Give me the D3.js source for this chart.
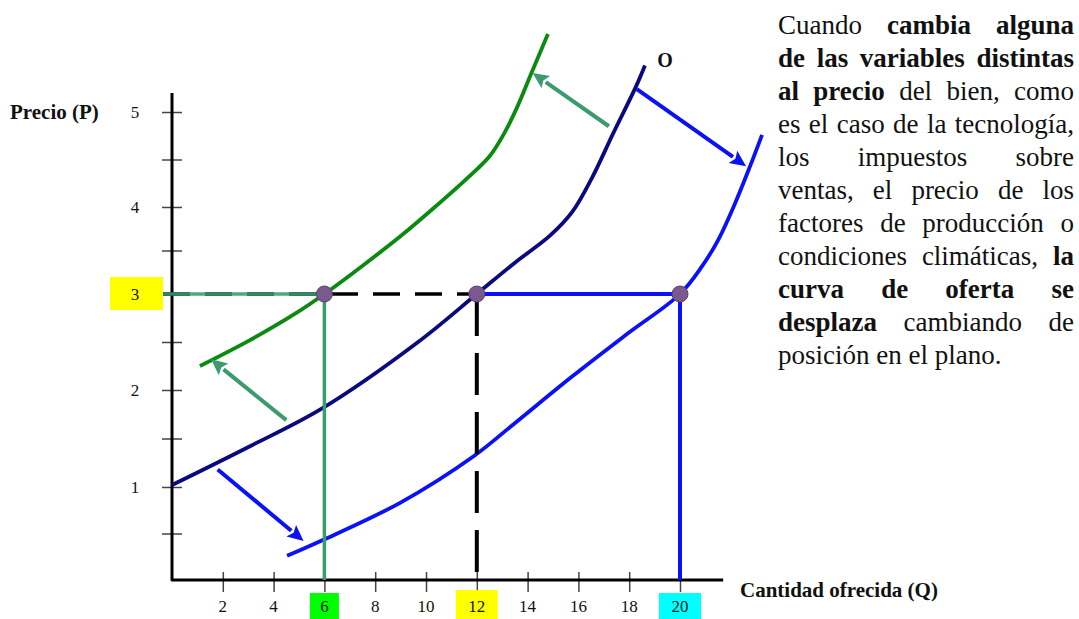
<!DOCTYPE html>
<html>
<head>
<meta charset="utf-8">
<script src="https://cdn.jsdelivr.net/npm/d3@7"></script>
<style>
  html, body { margin: 0; padding: 0; background: #ffffff; }
  svg { display: block; }
</style>
</head>
<body>
<svg id="chart" width="1079" height="619"></svg>
<script>
// ---------------- DATA ----------------
const priceTicks = [0.5, 1, 1.5, 2, 2.5, 3, 3.5, 4, 4.5, 5];
const priceLabels = [1, 2, 3, 4, 5];
const qtyTicks = [2, 4, 6, 8, 10, 12, 14, 16, 18, 20];

// Original supply curve "O"
const origQ = [0, 3.07, 5.91, 9.69, 12, 13.5, 14.88, 15.75, 16.54, 17.36, 18.27, 18.62];
const origP = [1.02, 1.42, 1.81, 2.5, 3, 3.36, 3.67, 3.94, 4.31, 4.77, 5.27, 5.49];
// Supply shifted left (green)
const leftQ = [1.1, 3.07, 4.88, 6, 7.48, 8.98, 10.35, 11.65, 12.52, 13.11, 13.62, 14.09, 14.8];
const leftP = [2.25, 2.52, 2.8, 3, 3.32, 3.66, 4.0, 4.31, 4.54, 4.79, 5.07, 5.37, 5.82];
// Supply shifted right (blue)
const rightQ = [4.53, 5.94, 8.98, 11.89, 13.46, 15.75, 17.95, 20, 20.87, 21.5, 22.17, 22.76, 23.23];
const rightP = [0.26, 0.43, 0.83, 1.32, 1.65, 2.14, 2.59, 3, 3.32, 3.62, 4.04, 4.43, 4.76];

// Equilibrium price and quantities
const eqPrice = 3;
const eqQty = [6, 12, 20];
const highlightQty = [6, 12, 20];
const highlightQtyColors = ["#00ff00", "#ffff00", "#00ffff"];
const highlightPrice = 3;

// Shift arrows: [q tail, p tail, q head, p head]
const greenArrows = [[4.5, 1.69, 1.54, 2.32], [17.2, 4.85, 14.2, 5.41]];
const blueArrows = [[1.8, 1.18, 5.18, 0.42], [18.3, 5.24, 22.6, 4.43]];

const curveLabel = "O";
const curveLabelPos = [19.41, 5.55];
const xTitle = "Cantidad ofrecida (Q)";
const yTitle = "Precio (P)";

// Paragraph (lines, with bold segments)
const paragraph = [
  [["Cuando ", false], ["cambia alguna", true]],
  [["de las variables distintas", true]],
  [["al precio", true], [" del bien, como", false]],
  [["es el caso de la tecnología,", false]],
  [["los impuestos sobre", false]],
  [["ventas, el precio de los", false]],
  [["factores de producción o", false]],
  [["condiciones climáticas, ", false], ["la", true]],
  [["curva de oferta se", true]],
  [["desplaza", true], [" cambiando de", false]],
  [["posición en el plano.", false]]
];

// ---------------- COLOURS ----------------
const C = {
  navy: "#0a0a7e",
  green: "#0b8a10",
  sea: "#3b9b6d",
  blue: "#0a12f5",
  dot: "#7a5a8e",
  dotStroke: "#5d4470",
  text: "#111111",
  tick: "#444444"
};

// ---------------- SCALES ----------------
const x = d3.scaleLinear().domain([0, 20]).range([172, 680]);
const y = d3.scaleLinear().domain([0, 1, 2, 3, 4, 5]).range([580, 487, 390, 294, 207, 112]);

const svg = d3.select("#chart");
const serif = "'Liberation Serif', 'Times New Roman', serif";

// ---------------- AXES ----------------
const yAxis = d3.axisLeft(y).tickValues(priceTicks).tickSize(10).tickSizeOuter(0)
  .tickFormat(() => "");
const gy = svg.append("g").attr("transform", `translate(${x(0)},0)`).call(yAxis);
gy.select(".domain").remove();
gy.selectAll(".tick line").attr("x1", 10).attr("stroke", C.tick).attr("stroke-width", 1.5);

const xAxis = d3.axisBottom(x).tickValues(qtyTicks).tickSize(12).tickSizeOuter(0)
  .tickFormat(() => "");
const gx = svg.append("g").attr("transform", `translate(0,${y(0)})`).call(xAxis);
gx.select(".domain").remove();
gx.selectAll(".tick line").attr("y1", -8).attr("stroke", C.tick).attr("stroke-width", 1.5);

// highlight boxes for tick labels
svg.append("rect")
  .attr("x", x(0) - 62).attr("y", y(highlightPrice) - 17)
  .attr("width", 53).attr("height", 33).attr("fill", "#ffff00");
highlightQty.forEach((q, i) => {
  const w = q >= 10 ? 42 : 29;
  svg.append("rect")
    .attr("x", x(q) - w / 2).attr("y", q === 12 ? 590 : 593)
    .attr("width", w).attr("height", q === 12 ? 29 : 26)
    .attr("fill", highlightQtyColors[i]);
});

// tick labels
svg.append("g").selectAll("text").data(priceLabels).join("text")
  .attr("x", x(0) - 37).attr("y", d => y(d)).attr("dy", "0.35em")
  .attr("text-anchor", "middle")
  .attr("font-family", serif).attr("font-size", 17).attr("fill", C.text)
  .text(d => d);
svg.append("g").selectAll("text").data(qtyTicks).join("text")
  .attr("x", d => x(d)).attr("y", 612)
  .attr("text-anchor", "middle")
  .attr("font-family", serif).attr("font-size", 17).attr("fill", C.text)
  .text(d => d);

// axis lines
svg.append("path")
  .attr("d", `M${x(0)},${y(5.2)} L${x(0)},${y(0)} L${x(21.7)},${y(0)}`)
  .attr("fill", "none").attr("stroke", "#000").attr("stroke-width", 3)
  .attr("stroke-linejoin", "round");

// axis titles
svg.append("text").attr("x", 10).attr("y", y(5)).attr("dy", "0.35em")
  .attr("font-family", serif).attr("font-size", 21).attr("font-weight", "bold")
  .attr("fill", C.text).text(yTitle);
svg.append("text").attr("x", 740).attr("y", 597)
  .attr("font-family", serif).attr("font-size", 21).attr("font-weight", "bold")
  .attr("fill", C.text).text(xTitle);

// ---------------- CURVES ----------------
const line = d3.line().x(d => x(d[0])).y(d => y(d[1])).curve(d3.curveCatmullRom.alpha(0.5));
function drawCurve(qs, ps, color) {
  svg.append("path").datum(qs.map((q, i) => [q, ps[i]]))
    .attr("d", line).attr("fill", "none").attr("stroke", color)
    .attr("stroke-width", 3.8).attr("stroke-linecap", "butt");
}
drawCurve(origQ, origP, C.navy);
drawCurve(leftQ, leftP, C.green);
drawCurve(rightQ, rightP, C.blue);

// curve label
svg.append("text").attr("x", x(curveLabelPos[0])).attr("y", y(curveLabelPos[1])).attr("dy", "0.35em")
  .attr("text-anchor", "middle")
  .attr("font-family", serif).attr("font-size", 20).attr("font-weight", "bold")
  .attr("fill", C.text).text(curveLabel);

// ---------------- REFERENCE LINES ----------------
// dashed black (original equilibrium)
svg.append("line")
  .attr("x1", x(0) - 9).attr("x2", x(eqQty[1])).attr("y1", y(eqPrice)).attr("y2", y(eqPrice))
  .attr("stroke", "#000").attr("stroke-width", 3.5).attr("stroke-dasharray", "27,15");
svg.append("line")
  .attr("x1", x(eqQty[1])).attr("x2", x(eqQty[1])).attr("y1", y(eqPrice)).attr("y2", y(0))
  .attr("stroke", "#000").attr("stroke-width", 4).attr("stroke-dasharray", "42,17");
// green
svg.append("line")
  .attr("x1", x(0) - 9).attr("x2", x(eqQty[0])).attr("y1", y(eqPrice)).attr("y2", y(eqPrice))
  .attr("stroke", C.sea).attr("stroke-width", 3.5).attr("opacity", 0.88);
svg.append("line")
  .attr("x1", x(eqQty[0])).attr("x2", x(eqQty[0])).attr("y1", y(eqPrice)).attr("y2", y(0))
  .attr("stroke", C.sea).attr("stroke-width", 3.5);
// blue
svg.append("line")
  .attr("x1", x(eqQty[1])).attr("x2", x(eqQty[2])).attr("y1", y(eqPrice)).attr("y2", y(eqPrice))
  .attr("stroke", C.blue).attr("stroke-width", 4);
svg.append("line")
  .attr("x1", x(eqQty[2])).attr("x2", x(eqQty[2])).attr("y1", y(eqPrice)).attr("y2", y(0))
  .attr("stroke", C.blue).attr("stroke-width", 4);

// ---------------- ARROWS ----------------
function drawArrow(a, color) {
  const x1 = x(a[0]), y1 = y(a[1]), x2 = x(a[2]), y2 = y(a[3]);
  const ang = Math.atan2(y2 - y1, x2 - x1);
  const L = 16, W = 7.5;
  const bx = x2 - L * Math.cos(ang), by = y2 - L * Math.sin(ang);
  svg.append("line").attr("x1", x1).attr("y1", y1).attr("x2", bx).attr("y2", by)
    .attr("stroke", color).attr("stroke-width", 4);
  const p1 = [bx + W * Math.sin(ang), by - W * Math.cos(ang)];
  const p2 = [bx - W * Math.sin(ang), by + W * Math.cos(ang)];
  svg.append("path").attr("d", `M${x2},${y2} L${p1[0]},${p1[1]} L${bx + 3 * Math.cos(ang)},${by + 3 * Math.sin(ang)} L${p2[0]},${p2[1]} Z`)
    .attr("fill", color);
}
greenArrows.forEach(a => drawArrow(a, C.sea));
blueArrows.forEach(a => drawArrow(a, C.blue));

// ---------------- DOTS ----------------
svg.append("g").selectAll("circle").data(eqQty).join("circle")
  .attr("cx", d => x(d)).attr("cy", y(eqPrice)).attr("r", 8)
  .attr("fill", C.dot).attr("stroke", C.dotStroke).attr("stroke-width", 1);

// ---------------- PARAGRAPH (justified) ----------------
const left = 778, right = 1074, base0 = 34, lh = 33, fs = 27;
const measure = svg.append("text").attr("font-family", serif).attr("font-size", fs)
  .attr("visibility", "hidden");
function wordWidth(w, bold) {
  measure.attr("font-weight", bold ? "bold" : "normal").text(w);
  return measure.node().getComputedTextLength();
}
const tg = svg.append("g");
paragraph.forEach((segs, li) => {
  const words = [];
  segs.forEach(([t, b]) => t.split(" ").filter(s => s.length).forEach(w => words.push([w, b])));
  const widths = words.map(([w, b]) => wordWidth(w, b));
  const total = d3.sum(widths);
  const last = li === paragraph.length - 1;
  const gap = (!last && words.length > 1) ? (right - left - total) / (words.length - 1) : wordWidth("a a", false) - 2 * wordWidth("a", false);
  let cx = left;
  words.forEach(([w, b], i) => {
    tg.append("text").attr("x", cx).attr("y", base0 + li * lh)
      .attr("font-family", serif).attr("font-size", fs)
      .attr("font-weight", b ? "bold" : "normal").attr("fill", C.text).text(w);
    cx += widths[i] + gap;
  });
});
measure.remove();
</script>
</body>
</html>
